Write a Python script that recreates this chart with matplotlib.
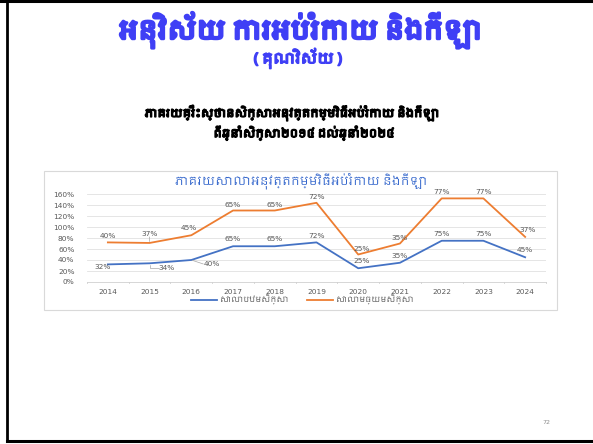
import matplotlib
matplotlib.use('Agg')
import matplotlib.pyplot as plt
from matplotlib import font_manager
import matplotlib.patheffects as pe
from matplotlib.lines import Line2D
from matplotlib.patches import Rectangle
import numpy as np

# data
years = ['2014', '2015', '2016', '2017', '2018', '2019', '2020', '2021', '2022', '2023', '2024']
primary = [32, 34, 40, 65, 65, 72, 25, 35, 75, 75, 45]
secondary = [40, 37, 45, 65, 65, 72, 25, 35, 77, 77, 37]
yticks = [0, 20, 40, 60, 80, 100, 120, 140, 160]

slide_title = 'អនុវិស័យ ការអប់រំកាយ និងកីឡា'
slide_sub = '( គុណវិស័យ )'
heading1 = 'ភាគរយគ្រឹះស្ថានសិក្សាអនុវត្តកម្មវិធីអប់រំកាយ និងកីឡា'
heading2 = 'ពីឆ្នាំសិក្សា២០១៤ ដល់ឆ្នាំ២០២៤'
chart_title = 'ភាគរយសាលាអនុវត្តកម្មវិធីអប់រំកាយ និងកីឡា'
legend_names = ['សាលាបឋមសិក្សា', 'សាលាមធ្យមសិក្សា']
page_no = '72'

# look for any installed Khmer font, fall back to DejaVu
khmer = []
for f in font_manager.fontManager.ttflist:
    if 'khmer' in f.name.lower() and f.name not in khmer:
        khmer.append(f.name)
fams = khmer + ['DejaVu Sans']
plt.rcParams['font.family'] = fams

BLUE = '#4472C4'
ORANGE = '#ED7D31'
GRAY = '#595959'
TITLE_BLUE = '#3F3FF5'
NUMFONT = 'DejaVu Sans'

fig = plt.figure(figsize=(5.93, 4.44), dpi=100)
W, H = 593, 444

def fx(px):
    return px / W

def fy(py):
    return 1 - py / H

# slide frame
fig.add_artist(Line2D([0, 1], [fy(1), fy(1)], color='black', lw=2.2))
fig.add_artist(Line2D([fx(7), fx(7)], [fy(0), fy(441)], color='black', lw=2.0))
fig.add_artist(Line2D([fx(7), 1], [fy(440.5), fy(440.5)], color='black', lw=2.2))

# slide headings (stroke to fake the heavy weight)
fig.text(fx(301), fy(30), slide_title, ha='center', va='center', fontsize=18.5,
         fontweight='bold', color=TITLE_BLUE,
         path_effects=[pe.withStroke(linewidth=2.2, foreground=TITLE_BLUE)])
fig.text(fx(298), fy(58), slide_sub, ha='center', va='center', fontsize=10.5,
         fontweight='bold', color=TITLE_BLUE,
         path_effects=[pe.withStroke(linewidth=1.2, foreground=TITLE_BLUE)])
fig.text(fx(292), fy(113), heading1, ha='center', va='center', fontsize=8.0,
         fontweight='bold', color='black',
         path_effects=[pe.withStroke(linewidth=1.1, foreground='black')])
fig.text(fx(304), fy(133), heading2, ha='center', va='center', fontsize=8.0,
         fontweight='bold', color='black',
         path_effects=[pe.withStroke(linewidth=1.1, foreground='black')])
fig.text(fx(546), fy(422), page_no, ha='center', va='center', fontsize=4.5,
         color='#8c8c8c', family=NUMFONT)

# chart box
fig.add_artist(Rectangle((fx(44), fy(310)), fx(557) - fx(44), fy(171) - fy(310),
                         transform=fig.transFigure, facecolor='white',
                         edgecolor='#d9d9d9', lw=0.8, zorder=-1))

ax = fig.add_axes([fx(87), fy(282), fx(546) - fx(87), fy(194) - fy(282)])
ax.patch.set_alpha(0)
x = np.arange(len(years))
stacked = np.array(primary) + np.array(secondary)

ax.plot(x, primary, color=BLUE, lw=1.3, label=legend_names[0])
ax.plot(x, stacked, color=ORANGE, lw=1.3, label=legend_names[1])

ax.set_xlim(-0.5, len(years) - 0.5)
ax.set_ylim(0, 160)
ax.set_yticks(yticks)
ax.set_yticklabels([f'{v}%' for v in yticks], family=NUMFONT)
ax.set_xticks(x)
ax.set_xticklabels(years, family=NUMFONT)
ax.tick_params(axis='both', length=0, labelsize=5.3, labelcolor=GRAY, pad=5)
ax.tick_params(axis='y', pad=9)
ax.grid(axis='y', color='#e0e0e0', lw=0.6)
ax.set_axisbelow(True)
for s in ['top', 'right', 'left']:
    ax.spines[s].set_visible(False)
ax.spines['bottom'].set_color('#d0d0d0')
ax.spines['bottom'].set_linewidth(0.6)
# small tick separators under the axis
for i in range(len(years) + 1):
    ax.plot([i - 0.5, i - 0.5], [0, -2.5], color='#d0d0d0', lw=0.6, clip_on=False)

# data label offsets in pixels
off_sec = [(0, 6), (0, 9), (-3, 7), (0, 6), (0, 6), (0, 6), (3, 6), (0, 6), (0, 6), (0, 6), (2, 7)]
off_pri = [(-5, -3), (17, -5), (21, -4), (0, 7), (0, 7), (0, 6), (3, 7), (0, 7), (0, 7), (0, 7), (0, 7)]

for i in range(len(years)):
    ax.annotate(f'{secondary[i]}%', (x[i], stacked[i]), xytext=off_sec[i],
                textcoords='offset pixels', ha='center', va='center',
                fontsize=5.3, color=GRAY, family=NUMFONT)
    ax.annotate(f'{primary[i]}%', (x[i], primary[i]), xytext=off_pri[i],
                textcoords='offset pixels', ha='center', va='center',
                fontsize=5.3, color=GRAY, family=NUMFONT)

# leader lines
ax.annotate('', (x[1], stacked[1]), xytext=(0, 6), textcoords='offset pixels',
            arrowprops=dict(arrowstyle='-', color='#a6a6a6', lw=0.5, shrinkA=0, shrinkB=1))
ax.annotate('', (x[1], primary[1]), xytext=(9, -5), textcoords='offset pixels',
            arrowprops=dict(arrowstyle='-', color='#a6a6a6', lw=0.5, shrinkA=0, shrinkB=1,
                            connectionstyle='angle,angleA=0,angleB=90,rad=0'))
ax.annotate('', (x[2], primary[2]), xytext=(12, -4), textcoords='offset pixels',
            arrowprops=dict(arrowstyle='-', color='#a6a6a6', lw=0.5, shrinkA=0, shrinkB=1))

fig.text(fx(301), fy(181), chart_title, ha='center', va='center', fontsize=8.5, color='#3366CC')

fig.legend(loc='center', bbox_to_anchor=(fx(303), fy(300)), ncol=2, frameon=False,
           fontsize=5.8, labelcolor=GRAY, handlelength=3.2, columnspacing=2.2,
           handletextpad=0.4, borderpad=0.1)

fig.savefig('out.png', dpi=100)
